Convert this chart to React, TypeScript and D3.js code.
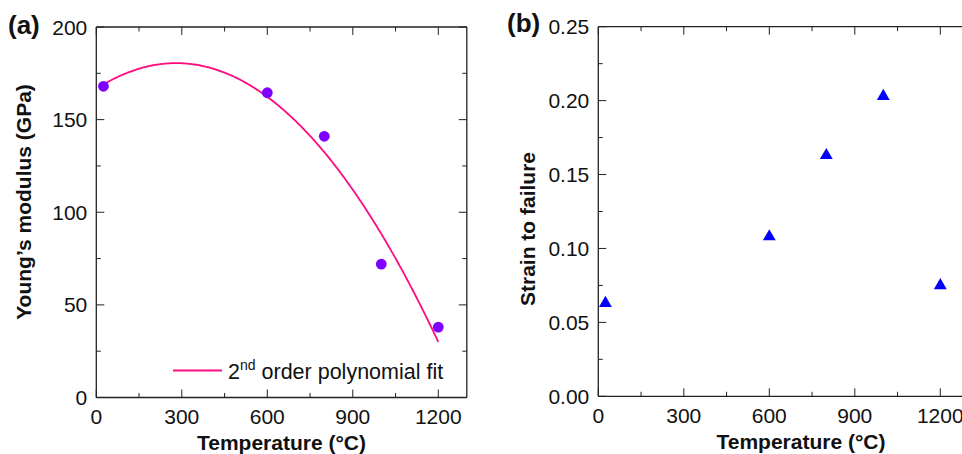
import React from "react";
import * as d3 from "d3";

// ---- data ----
const temperatures = [25, 600, 800, 1000, 1200];
const youngsModulus = [168, 164.5, 141, 72, 38];
const strainToFailure = [0.063, 0.108, 0.163, 0.203, 0.075];
// 2nd order polynomial fit: E = c0 + c1*T + c2*T^2
const fitCoefficients = [166.56, 0.09957, -1.778e-4];
const fitRange = [25, 1200];

const xMajorTicks = [0, 300, 600, 900, 1200];
const xMinorTicks = [150, 450, 750, 1050];
const yMajorTicksA = [0, 50, 100, 150, 200];
const yMinorTicksA = [25, 75, 125, 175];
const yMajorTicksB = [0, 0.05, 0.1, 0.15, 0.2, 0.25];
const yMinorTicksB = [0.025, 0.075, 0.125, 0.175, 0.225];

const FONT = "'Liberation Sans', Arial, Helvetica, sans-serif";
const AXIS = "#222";
const MAJOR = 8;
const MINOR = 4.5;

type PanelProps = {
  left: number;
  right: number;
  top: number;
  bottom: number;
  xDomain: [number, number];
  yDomain: [number, number];
  yMajor: number[];
  yMinor: number[];
  yFormat: (v: number) => string;
  showRight: boolean;
  children: (x: d3.ScaleLinear<number, number>, y: d3.ScaleLinear<number, number>) => React.ReactNode;
};

function Panel(p: PanelProps) {
  const x = d3.scaleLinear().domain(p.xDomain).range([p.left, p.right]);
  const y = d3.scaleLinear().domain(p.yDomain).range([p.bottom, p.top]);
  const xr = Math.min(p.right, 962);
  return (
    <g>
      {p.children(x, y)}
      {/* frame */}
      <line x1={p.left} x2={p.left} y1={p.top} y2={p.bottom} stroke={AXIS} strokeWidth={1.3} />
      <line x1={p.left} x2={xr} y1={p.bottom} y2={p.bottom} stroke={AXIS} strokeWidth={1.3} />
      <line x1={p.left} x2={xr} y1={p.top} y2={p.top} stroke={AXIS} strokeWidth={1.3} />
      {p.showRight && (
        <line x1={p.right} x2={p.right} y1={p.top} y2={p.bottom} stroke={AXIS} strokeWidth={1.3} />
      )}
      {/* x ticks */}
      {xMajorTicks.map((t) => (
        <g key={"xM" + t}>
          <line x1={x(t)} x2={x(t)} y1={p.bottom} y2={p.bottom - MAJOR} stroke={AXIS} strokeWidth={1} />
          <line x1={x(t)} x2={x(t)} y1={p.top} y2={p.top + MAJOR} stroke={AXIS} strokeWidth={1} />
          <text x={x(t)} y={p.bottom + 26.5} textAnchor="middle" fontSize={21} fontFamily={FONT} fill="#111">
            {t}
          </text>
        </g>
      ))}
      {xMinorTicks.map((t) => (
        <g key={"xm" + t}>
          <line x1={x(t)} x2={x(t)} y1={p.bottom} y2={p.bottom - MINOR} stroke={AXIS} strokeWidth={1} />
          <line x1={x(t)} x2={x(t)} y1={p.top} y2={p.top + MINOR} stroke={AXIS} strokeWidth={1} />
        </g>
      ))}
      {/* y ticks */}
      {p.yMajor.map((t) => (
        <g key={"yM" + t}>
          <line x1={p.left} x2={p.left + MAJOR} y1={y(t)} y2={y(t)} stroke={AXIS} strokeWidth={1} />
          {p.showRight && (
            <line x1={p.right} x2={p.right - MAJOR} y1={y(t)} y2={y(t)} stroke={AXIS} strokeWidth={1} />
          )}
          <text
            x={p.left - 9}
            y={y(t)}
            dy="0.36em"
            textAnchor="end"
            fontSize={21}
            fontFamily={FONT}
            fill="#111"
          >
            {p.yFormat(t)}
          </text>
        </g>
      ))}
      {p.yMinor.map((t) => (
        <g key={"ym" + t}>
          <line x1={p.left} x2={p.left + MINOR} y1={y(t)} y2={y(t)} stroke={AXIS} strokeWidth={1} />
          {p.showRight && (
            <line x1={p.right} x2={p.right - MINOR} y1={y(t)} y2={y(t)} stroke={AXIS} strokeWidth={1} />
          )}
        </g>
      ))}
    </g>
  );
}

export default function App() {
  const fit = (T: number) => fitCoefficients[0] + fitCoefficients[1] * T + fitCoefficients[2] * T * T;
  const fitTs = d3.range(fitRange[0], fitRange[1] + 0.001, 5);
  const triangle = d3.symbol().type(d3.symbolTriangle).size(72)()!;

  return (
    <svg
      width={962}
      height={454}
      viewBox="0 0 962 454"
      style={{ position: "absolute", left: 0, top: 0, background: "#fff" }}
    >
      <rect width={962} height={454} fill="#fff" />
      {/* Panel (a) */}
      <Panel
        left={96.3}
        right={466.8}
        top={27}
        bottom={397.5}
        xDomain={[0, 1300]}
        yDomain={[0, 200]}
        yMajor={yMajorTicksA}
        yMinor={yMinorTicksA}
        yFormat={(v) => String(v)}
        showRight={true}
      >
        {(x, y) => {
          const line = d3
            .line<number>()
            .x((T) => x(T))
            .y((T) => y(fit(T)));
          return (
            <g>
              <path d={line(fitTs)!} fill="none" stroke="#FF0A80" strokeWidth={1.8} />
              {temperatures.map((T, i) => (
                <circle key={T} cx={x(T)} cy={y(youngsModulus[i])} r={5.4} fill="#7F00FF" />
              ))}
            </g>
          );
        }}
      </Panel>
      {/* legend a */}
      <line x1={173} x2={222} y1={370.5} y2={370.5} stroke="#FF0A80" strokeWidth={1.8} />
      <text x={228} y={379} fontSize={21.5} fontFamily={FONT} fill="#111">
        2<tspan fontSize={14} dy={-9}>nd</tspan>
        <tspan dy={9}> order polynomial fit</tspan>
      </text>
      {/* titles a */}
      <text x={281.5} y={450} textAnchor="middle" fontSize={21} fontWeight="bold" fontFamily={FONT} fill="#111">
        Temperature (°C)
      </text>
      <text
        transform="translate(31,202) rotate(-90)"
        textAnchor="middle"
        fontSize={21}
        fontWeight="bold"
        fontFamily={FONT}
        fill="#111"
      >
        Young’s modulus (GPa)
      </text>
      <text x={8} y={34} fontSize={26} fontWeight="bold" fontFamily={FONT} fill="#111">
        (a)
      </text>

      {/* Panel (b) */}
      <Panel
        left={598.3}
        right={968.8}
        top={26.7}
        bottom={396.3}
        xDomain={[0, 1300]}
        yDomain={[0, 0.25]}
        yMajor={yMajorTicksB}
        yMinor={yMinorTicksB}
        yFormat={(v) => d3.format(".2f")(v)}
        showRight={false}
      >
        {(x, y) => (
          <g>
            {temperatures.map((T, i) => (
              <path
                key={T}
                d={triangle}
                transform={`translate(${x(T)},${y(strainToFailure[i])})`}
                fill="#0000FF"
              />
            ))}
          </g>
        )}
      </Panel>
      <text x={801} y={449} textAnchor="middle" fontSize={21} fontWeight="bold" fontFamily={FONT} fill="#111">
        Temperature (°C)
      </text>
      <text
        transform="translate(535,229) rotate(-90)"
        textAnchor="middle"
        fontSize={21}
        fontWeight="bold"
        fontFamily={FONT}
        fill="#111"
      >
        Strain to failure
      </text>
      <text x={507} y={32} fontSize={26} fontWeight="bold" fontFamily={FONT} fill="#111">
        (b)
      </text>
    </svg>
  );
}
